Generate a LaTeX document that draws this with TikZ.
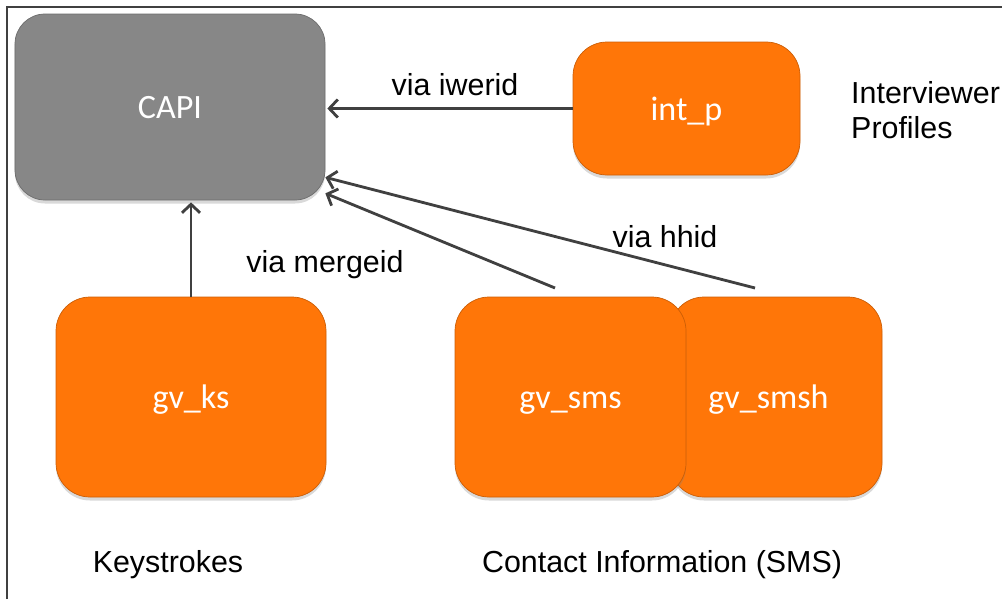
\documentclass[tikz,border=0pt]{standalone}
\usepackage{fontspec}
\setmainfont{Liberation Sans}
\newfontfamily\boxfont{Carlito}
\usetikzlibrary{shadows,arrows.meta}
\definecolor{capigray}{RGB}{135,135,135}
\definecolor{dataorange}{RGB}{255,118,8}
\definecolor{arrowgray}{RGB}{64,64,64}

\begin{document}
\begin{tikzpicture}[
    >={Straight Barb[length=0.17cm, width=0.36cm]},
    table/.style={rounded corners=0.68cm, fill=dataorange, draw=dataorange!80!black, line width=0.4pt,
      text=white, font=\boxfont\fontsize{19.4}{23}\selectfont, text height=13.6pt, text depth=0pt,
      drop shadow={opacity=0.3, shadow xshift=0cm, shadow yshift=-0.07cm}},
    link/.style={->, line width=1.6pt, arrowgray},
    caption/.style={font=\fontsize{17.3}{20}\selectfont, text=black}]
  \useasboundingbox (0,0) rectangle (20.04,-11.98);
  \draw[line width=0.8pt, black!75] (0.14,-11.98) -- (0.14,-0.14) -- (20.04,-0.14);

  \node[table, fill=capigray, draw=capigray!80!black, rounded corners=0.6cm,
    minimum width=6.2cm, minimum height=3.72cm] (CAPI) at (3.4,-2.14) {CAPI};
  \node[table, minimum width=4.54cm, minimum height=2.66cm] (int_p) at (13.73,-2.17) {int\_p};
  \node[table, minimum width=5.4cm, minimum height=4cm] (gv_ks) at (3.82,-7.94) {gv\_ks};
  \node[table, minimum width=4.24cm, minimum height=4cm] (gv_smsh) at (15.52,-7.94) {\hspace*{-0.3cm}gv\_smsh};
  \node[table, minimum width=4.62cm, minimum height=4cm] (gv_sms) at (11.41,-7.94) {gv\_sms};

  \coordinate (sms_top) at (11.1,-5.76);
  \coordinate (smsh_top) at (15.1,-5.76);

  \draw[link] (int_p.west) -- ([xshift=0.04cm]int_p.west -| CAPI.east);
  \draw[link] (gv_ks.north) -- ([yshift=-0.04cm]gv_ks.north |- CAPI.south);
  \draw[link] (sms_top) -- ([yshift=0.14cm]CAPI.south east);
  \draw[link] (smsh_top) -- ([yshift=0.46cm]CAPI.south east);

  \node[caption] (iwerid) at (9.1,-1.7) {via iwerid};
  \node[caption] (mergeid) at (6.5,-5.3) {via mergeid};
  \node[caption] (hhid) at (13.3,-4.74) {via hhid};
  \node[caption, anchor=west, align=left, font=\fontsize{17.3}{19.8}\selectfont]
    (profiles) at (16.9,-2.21) {Interviewer\\Profiles};
  \node[caption] (keystrokes) at (3.36,-11.3) {Keystrokes};
  \node[caption] (contact) at (13.24,-11.3) {Contact Information (SMS)};
\end{tikzpicture}
\end{document}
